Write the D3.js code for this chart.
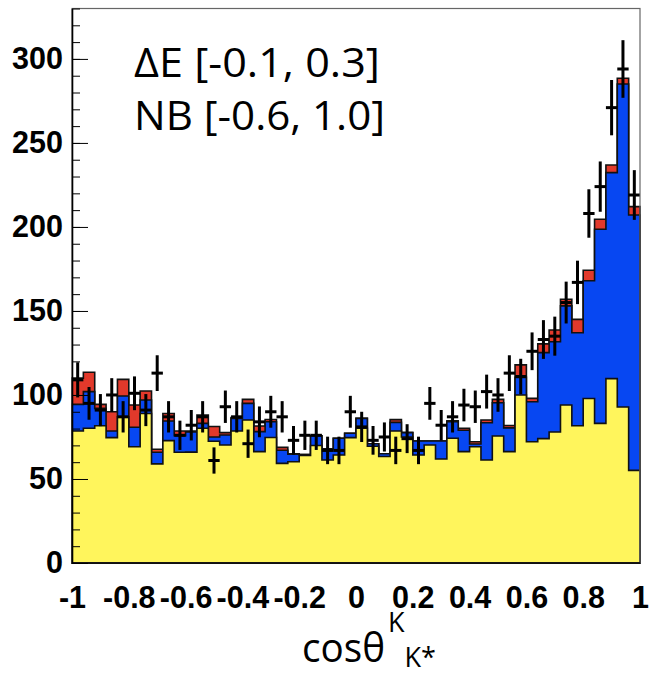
<!DOCTYPE html>
<html>
<head>
<meta charset="utf-8">
<script src="https://cdn.jsdelivr.net/npm/d3@7"></script>
<style>
  body { margin: 0; background: #ffffff; }
  svg { display: block; }
</style>
</head>
<body>
<svg id="chart" width="649" height="674"></svg>
<script>
// Histogram binning: 50 equal bins over cos(theta) in [-1, 1]
const xRange = [-1, 1];
const nBins = 50;

// Stacked MC components (events per bin), bottom to top
const continuum = [
  78.6, 80.2, 81.7, 74.6, 87.0, 69.2, 89.0, 59.0, 72.8, 65.9,
  66.0, 80.2, 72.5, 70.2, 78.6, 85.1, 66.3, 74.7, 59.3, 60.3,
  64.0, 69.9, 61.3, 64.3, 74.6, 80.2, 69.5, 63.4, 78.6, 75.0,
  64.3, 70.2, 61.9, 74.2, 66.3, 69.2, 61.3, 75.6, 66.3, 100.0,
  72.2, 74.0, 78.0, 94.0, 81.7, 97.9, 83.1, 109.7, 92.8, 55.1
];
const signal = [
  15.8, 21.8, 10.3, 4.0, 12.4, 11.6, 8.0, 6.9, 11.7, 9.9,
  12.0, 2.9, 2.5, 6.0, 7.5, 9.9, 11.9, 9.4, 7.8, 4.4,
  0.5, 5.8, 6.7, 9.9, 2.6, 5.9, 1.5, 1.6, 5.1, 2.5,
  8.3, 2.4, 10.7, 9.9, 12.7, 1.6, 22.2, 19.8, 14.1, 10.5,
  23.8, 51.2, 53.7, 59.0, 55.3, 70.1, 115.5, 122.6, 192.3, 152.0
];
const peaking = [
  15.6, 11.5, 2.4, 11.4, 9.9, 13.2, 5.4, 1.8, 4.5, 2.8,
  0.5, 4.9, 6.2, 1.4, 0.4, 2.4, 3.3, 1.3, 1.7, 0.3,
  0.0, 0.0, 0.0, 0.0, 0.0, 0.0, 0.0, 0.0, 1.6, 0.3,
  0.0, 0.0, 0.0, 0.6, 1.2, 1.4, 1.6, 2.0, 1.4, 7.4,
  2.0, 5.2, 7.0, 4.0, 8.0, 6.2, 6.0, 4.6, 3.4, 5.0
];

// Observed counts per bin
const dataCounts = [
  109, 95, 91, 100, 87, 101, 91, 113, 87, 76,
  82, 87, 61, 93, 87, 71, 84, 90, 87, 73,
  76, 76, 67, 67, 90, 81, 73, 75, 67, 74,
  67, 95, 82, 87, 94, 93, 102, 100, 113, 111,
  126, 133, 135, 155, 167, 208, 224, 271, 294, 219
];

// Axis ticks and labels
const xTicks = [-1, -0.8, -0.6, -0.4, -0.2, 0, 0.2, 0.4, 0.6, 0.8, 1];
const xTickLabels = ["-1", "-0.8", "-0.6", "-0.4", "-0.2", "0", "0.2", "0.4", "0.6", "0.8", "1"];
const yMajorTicks = [0, 50, 100, 150, 200, 250, 300];
const yMinorTicks = d3.range(0, 331, 10);
const yMax = 330;

// Selection labels
const cutLabels = ["\u0394E [-0.1, 0.3]", "NB [-0.6, 1.0]"];

const layerColors = { continuum: "#fff55c", signal: "#0747f2", peaking: "#e2392b" };

// ---------------------------------------------------------------
const svg = d3.select("#chart");
const frame = { left: 72, right: 640, top: 8.5, bottom: 563 };
const tickFont = "'Liberation Sans', Arial, sans-serif";
const tickFontSize = 30.5;

const x = d3.scaleLinear().domain(xRange).range([frame.left, frame.right]);
const y = d3.scaleLinear().domain([0, yMax]).range([frame.bottom, frame.top]);

const binWidth = (xRange[1] - xRange[0]) / nBins;
const rows = d3.range(nBins).map(i => ({
  lo: xRange[0] + i * binWidth,
  hi: xRange[0] + (i + 1) * binWidth,
  continuum: continuum[i],
  signal: signal[i],
  peaking: peaking[i],
  n: dataCounts[i]
}));

const keys = ["continuum", "signal", "peaking"];
const stacked = d3.stack().keys(keys)(rows);

// x-axis ticks sit under the histogram fill
const xAxis = d3.axisBottom(x)
  .tickValues(xTicks)
  .tickFormat((d, i) => xTickLabels[i])
  .tickSize(-15)
  .tickSizeOuter(0)
  .tickPadding(23);
const gx = svg.append("g")
  .attr("transform", `translate(0,${frame.bottom})`)
  .call(xAxis);
gx.select(".domain").remove();
gx.selectAll(".tick line").attr("stroke", "#000").attr("stroke-width", 1);
gx.selectAll(".tick text")
  .attr("font-family", tickFont)
  .attr("font-weight", "bold")
  .attr("font-size", tickFontSize)
  .attr("fill", "#000");

// Each cumulative histogram drawn as a filled step shape, tallest first
const stepArea = d3.area()
  .x(d => x(d.x))
  .y0(y(0))
  .y1(d => y(d.v))
  .curve(d3.curveStepAfter);

const layers = svg.append("g");
stacked.slice().reverse().forEach(layer => {
  const pts = layer.map((s, i) => ({ x: rows[i].lo, v: s[1] }));
  pts.push({ x: rows[nBins - 1].hi, v: layer[nBins - 1][1] });
  layers.append("path")
    .attr("d", stepArea(pts))
    .attr("fill", layerColors[layer.key])
    .attr("stroke", "#111")
    .attr("stroke-width", 1.6)
    .attr("stroke-linejoin", "miter");
});

// Data points with Poisson errors
const pts = svg.append("g").attr("stroke", "#000").attr("stroke-width", 3);
rows.forEach(r => {
  const cx = x((r.lo + r.hi) / 2);
  const err = Math.sqrt(r.n);
  pts.append("line")
    .attr("x1", cx).attr("x2", cx)
    .attr("y1", y(r.n - err)).attr("y2", y(r.n + err));
  pts.append("line")
    .attr("x1", x(r.lo)).attr("x2", x(r.hi))
    .attr("y1", y(r.n)).attr("y2", y(r.n));
});

// Frame
svg.append("rect")
  .attr("x", frame.left).attr("y", frame.top)
  .attr("width", frame.right - frame.left)
  .attr("height", frame.bottom - frame.top)
  .attr("fill", "none")
  .attr("stroke", "#666")
  .attr("stroke-width", 1.2);
svg.append("line")
  .attr("x1", frame.left).attr("x2", frame.right)
  .attr("y1", frame.bottom).attr("y2", frame.bottom)
  .attr("stroke", "#000").attr("stroke-width", 1.6);

// y axis with inward major and minor ticks
const yMinor = d3.axisLeft(y).tickValues(yMinorTicks).tickSize(-8).tickSizeOuter(0).tickFormat("");
const gyMinor = svg.append("g").attr("transform", `translate(${frame.left},0)`).call(yMinor);
gyMinor.select(".domain").remove();
gyMinor.selectAll(".tick line").attr("stroke", "#000").attr("stroke-width", 1);

const yAxis = d3.axisLeft(y).tickValues(yMajorTicks).tickSize(-16).tickSizeOuter(0).tickPadding(9);
const gy = svg.append("g").attr("transform", `translate(${frame.left},0)`).call(yAxis);
gy.select(".domain").attr("stroke", "#000").attr("stroke-width", 1.6);
gy.selectAll(".tick line").attr("stroke", "#000").attr("stroke-width", 1);
gy.selectAll(".tick text")
  .attr("font-family", tickFont)
  .attr("font-weight", "bold")
  .attr("font-size", tickFontSize)
  .attr("fill", "#000");

// Selection labels
const labelFont = "'Open Sans', 'Liberation Sans', sans-serif";
svg.append("text")
  .attr("x", 134).attr("y", 77)
  .attr("font-family", labelFont).attr("font-size", 40)
  .attr("textLength", 246).attr("lengthAdjust", "spacingAndGlyphs")
  .text(cutLabels[0]);
svg.append("text")
  .attr("x", 134).attr("y", 130)
  .attr("font-family", labelFont).attr("font-size", 40)
  .attr("textLength", 251).attr("lengthAdjust", "spacingAndGlyphs")
  .text(cutLabels[1]);

// x-axis title: cos theta^K_{K*}
const title = svg.append("text")
  .attr("x", 302).attr("y", 662)
  .attr("font-family", labelFont).attr("font-size", 40)
  .attr("fill", "#000");
title.append("tspan").attr("textLength", 83).attr("lengthAdjust", "spacingAndGlyphs").text("cos\u03B8");
title.append("tspan").attr("font-size", 27).attr("dx", 3).attr("dy", -30).text("K");
title.append("tspan").attr("font-size", 27).attr("dx", 0).attr("dy", 35).text("K*");
</script>
</body>
</html>
